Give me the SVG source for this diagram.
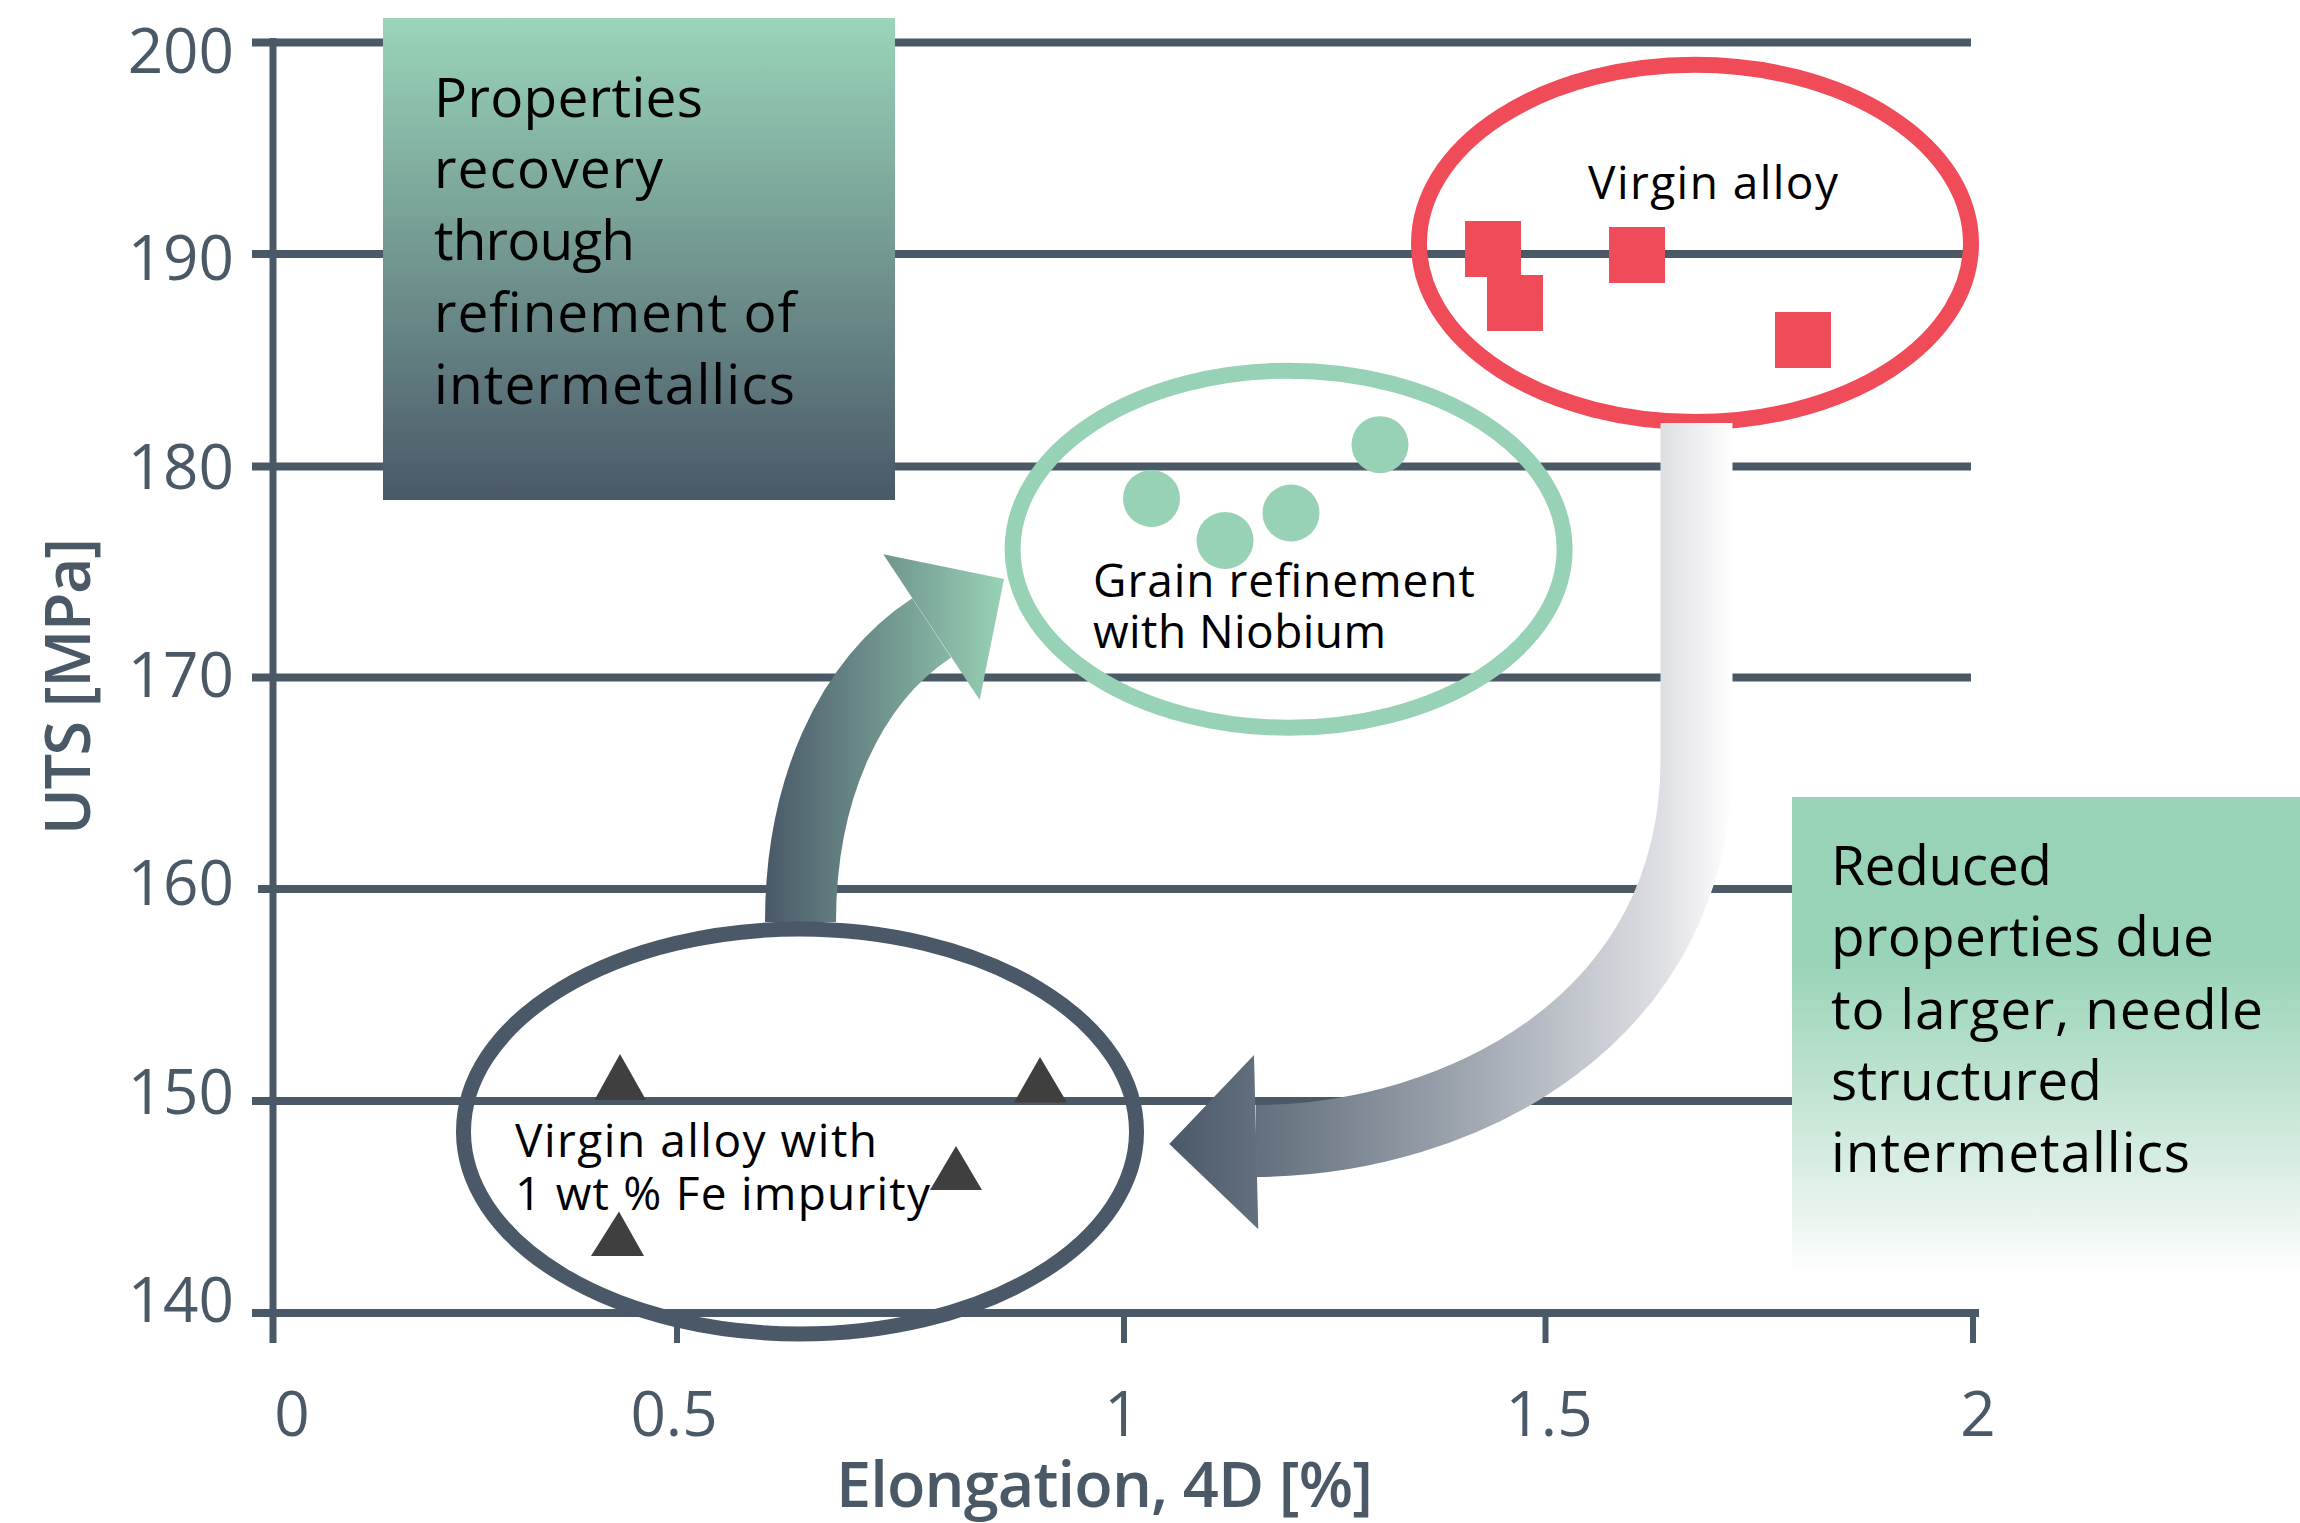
<svg xmlns="http://www.w3.org/2000/svg" width="2300" height="1523" viewBox="0 0 2300 1523">
<style>
.grid{stroke:#4B5967;stroke-width:8;fill:none}
.axis{stroke:#4B5967;stroke-width:7;fill:none}
.tick{stroke:#4B5967;stroke-width:6;fill:none}
.num{font-family:"Open Sans","Liberation Sans",sans-serif;font-size:62px;fill:#4B5967}
.title{font-family:"Open Sans","Liberation Sans",sans-serif;font-size:63px;font-weight:600;fill:#4B5967}
.box{font-family:"Open Sans","Liberation Sans",sans-serif;font-size:55px;fill:#000}
.lbl{font-family:"Open Sans","Liberation Sans",sans-serif;font-size:46px;fill:#000}
.sq{fill:#F04B58}
.dot{fill:#98D2B6}
.tri{fill:#3F3F3F}
</style>
<defs>
<linearGradient id="gLeft" x1="0" y1="0" x2="0" y2="1">
<stop offset="0" stop-color="#9AD5B9"/>
<stop offset="1" stop-color="#4A5868"/>
</linearGradient>
<linearGradient id="gRight" x1="0" y1="0" x2="0" y2="1">
<stop offset="0" stop-color="#98D3B7"/>
<stop offset="0.35" stop-color="#9AD4B8"/>
<stop offset="0.6" stop-color="#BFE3D1"/>
<stop offset="0.85" stop-color="#E6F3EC"/>
<stop offset="1" stop-color="#FFFFFF"/>
</linearGradient>
<linearGradient id="gA1" gradientUnits="userSpaceOnUse" x1="765" y1="0" x2="1004" y2="0">
<stop offset="0" stop-color="#4A5868"/>
<stop offset="1" stop-color="#98D2B6"/>
</linearGradient>
<linearGradient id="gA2" gradientUnits="userSpaceOnUse" x1="1169" y1="0" x2="1733" y2="0">
<stop offset="0" stop-color="#4A5868"/>
<stop offset="0.5" stop-color="#9AA2AC"/>
<stop offset="0.87" stop-color="#DDDEE3"/>
<stop offset="1" stop-color="#FFFFFF"/>
</linearGradient>
</defs>
<rect width="2300" height="1523" fill="#fff"/>
<g id="grid">
<line class="grid" x1="252" y1="42.5" x2="1971" y2="42.5"/>
<line class="grid" x1="252" y1="254" x2="1971" y2="254"/>
<line class="grid" x1="252" y1="466.5" x2="1971" y2="466.5"/>
<line class="grid" x1="252" y1="677.5" x2="1971" y2="677.5"/>
<line class="grid" x1="258" y1="889" x2="1971" y2="889"/>
<line class="grid" x1="252" y1="1101" x2="1971" y2="1101"/>
<line class="grid" x1="252" y1="1313" x2="1979" y2="1313"/>
<line class="axis" x1="273" y1="38" x2="273" y2="1343"/>
<line class="tick" x1="677" y1="1313" x2="677" y2="1343"/>
<line class="tick" x1="1124" y1="1313" x2="1124" y2="1343"/>
<line class="tick" x1="1545.5" y1="1313" x2="1545.5" y2="1343"/>
<line class="tick" x1="1973" y1="1313" x2="1973" y2="1343"/>
</g>
<g id="axis-labels">
<text class="num" x="234" y="73" text-anchor="end">200</text>
<text class="num" x="234" y="280" text-anchor="end">190</text>
<text class="num" x="234" y="488.5" text-anchor="end">180</text>
<text class="num" x="234" y="696.5" text-anchor="end">170</text>
<text class="num" x="234" y="905" text-anchor="end">160</text>
<text class="num" x="234" y="1114" text-anchor="end">150</text>
<text class="num" x="234" y="1322" text-anchor="end">140</text>
<text class="num" x="292" y="1436" text-anchor="middle">0</text>
<text class="num" x="674" y="1436" text-anchor="middle">0.5</text>
<text class="num" x="1122" y="1436" text-anchor="middle">1</text>
<text class="num" x="1549" y="1436" text-anchor="middle">1.5</text>
<text class="num" x="1978" y="1436" text-anchor="middle">2</text>
<text class="title" x="836" y="1507" textLength="537">Elongation, 4D [%]</text>
<text class="title" transform="translate(90,686.5) rotate(-90)" x="0" y="0" text-anchor="middle" textLength="297">UTS [MPa]</text>
</g>
<g id="box-recovery">
<rect x="383" y="18" width="512" height="482" fill="url(#gLeft)"/>
<text class="box" x="434" y="117" textLength="269">Properties</text>
<text class="box" x="434" y="188" textLength="229">recovery</text>
<text class="box" x="434" y="260" textLength="201">through</text>
<text class="box" x="434" y="332" textLength="362">refinement of</text>
<text class="box" x="434" y="404" textLength="361">intermetallics</text>
</g>
<g id="box-reduced">
<rect x="1792" y="797" width="508" height="480" fill="url(#gRight)"/>
<text class="box" x="1831" y="885" textLength="221">Reduced</text>
<text class="box" x="1831" y="956" textLength="383">properties due</text>
<text class="box" x="1831" y="1028.5" textLength="432">to larger, needle</text>
<text class="box" x="1831" y="1100" textLength="271">structured</text>
<text class="box" x="1831" y="1172" textLength="359">intermetallics</text>
</g>
<g id="node-niobium">
<ellipse cx="1288.6" cy="549.2" rx="276" ry="178.5" fill="none" stroke="#98D2B6" stroke-width="16"/>
<circle class="dot" cx="1151.5" cy="498.5" r="28.5"/>
<circle class="dot" cx="1225" cy="540.5" r="28.5"/>
<circle class="dot" cx="1291" cy="513" r="28.5"/>
<circle class="dot" cx="1380" cy="444.7" r="28.5"/>
<text class="lbl" x="1093" y="597" textLength="382">Grain refinement</text>
<text class="lbl" x="1093" y="648" textLength="293">with Niobium</text>
</g>
<g id="node-virgin">
<ellipse cx="1695" cy="243.4" rx="276" ry="178.6" fill="none" stroke="#F04B58" stroke-width="16"/>
<rect class="sq" x="1465" y="221" width="56" height="56"/>
<rect class="sq" x="1487" y="275" width="56" height="56"/>
<rect class="sq" x="1609" y="227" width="56" height="56"/>
<rect class="sq" x="1775" y="312" width="56" height="56"/>
<text class="lbl" x="1588" y="199" textLength="250">Virgin alloy</text>
</g>
<g id="connectors">
<path d="M1696.5,423 L1696.5,760 C1696.5,1020 1460,1140 1256,1141" fill="none" stroke="url(#gA2)" stroke-width="72"/>
<polygon points="1254,1055 1169.3,1144 1258.3,1229.3" fill="url(#gA2)"/>
<path d="M800.5,922 C800.5,792 848.4,682.5 931.7,627.8" fill="none" stroke="url(#gA1)" stroke-width="71"/>
<polygon points="883.3,554.3 1004,579 979.7,700" fill="url(#gA1)"/>
</g>
<g id="node-fe">
<ellipse cx="800" cy="1131.5" rx="336.5" ry="202.5" fill="none" stroke="#4A5868" stroke-width="15"/>
<polygon class="tri" points="620,1054 646,1100 594.5,1100"/>
<polygon class="tri" points="1040,1057 1067,1102.5 1014,1102.5"/>
<polygon class="tri" points="956,1146 982,1190 930,1190"/>
<polygon class="tri" points="619,1211.5 644,1256 591,1256"/>
<text class="lbl" x="515" y="1157" textLength="362">Virgin alloy with</text>
<text class="lbl" x="515" y="1210" textLength="415">1 wt % Fe impurity</text>
</g>
</svg>
